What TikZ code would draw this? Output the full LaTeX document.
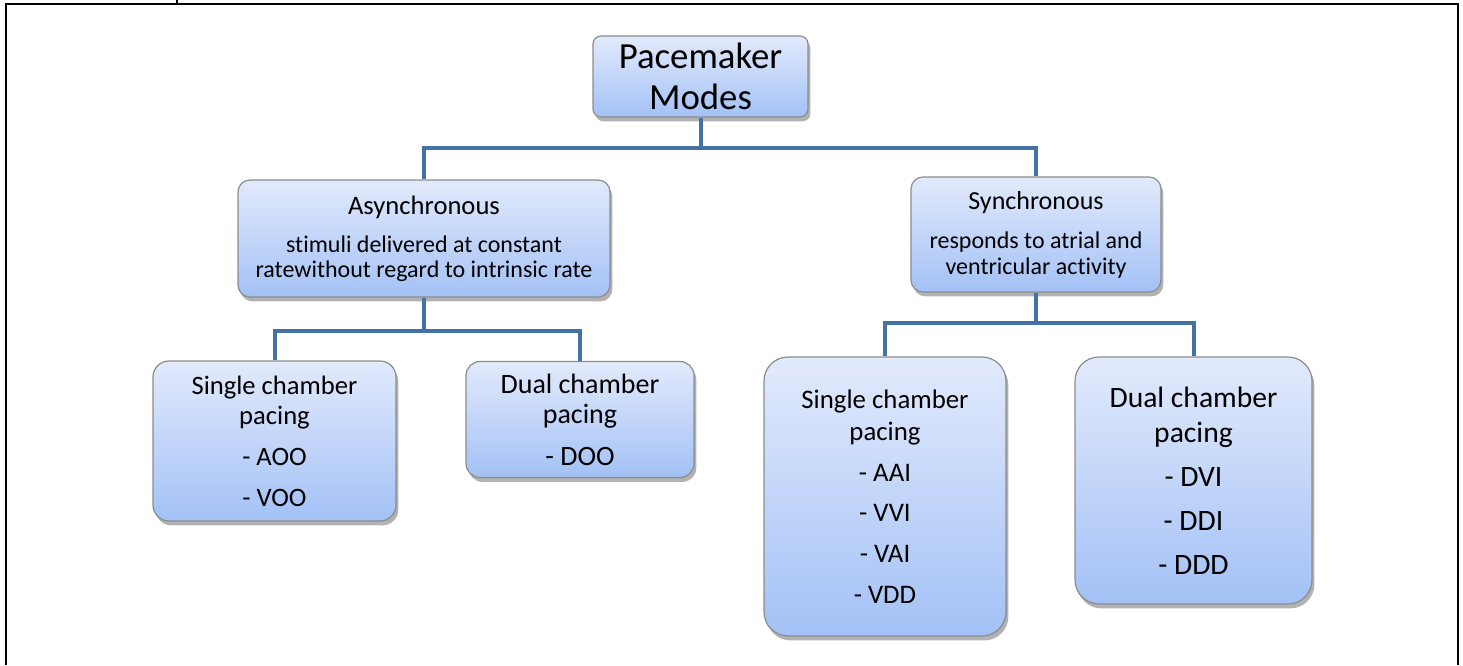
\documentclass[tikz,border=0pt]{standalone}
\usepackage{fontspec}
\setmainfont[Ligatures=NoCommon]{Carlito}
\usetikzlibrary{shadows}

\definecolor{boxtop}{RGB}{226,234,252}
\definecolor{boxbot}{RGB}{163,193,246}
\definecolor{boxline}{RGB}{140,140,140}
\definecolor{linkblue}{RGB}{68,114,162}

\tikzset{
  modebox/.style={draw=boxline, line width=0.6pt, top color=boxtop, bottom color=boxbot,
    align=center, inner sep=0pt,
    drop shadow={shadow xshift=1.2pt, shadow yshift=-2.2pt, opacity=0.3, fill=black}},
  link/.style={draw=linkblue, line width=2pt}
}

\begin{document}
\begin{tikzpicture}[x=0.5pt,y=-0.5pt]
  \useasboundingbox (0,0) rectangle (1463,665);

  % Draw the table frame round the picture
  \draw[line width=1pt] (6,665) -- (6,4) -- (1458,4) -- (1458,665);
  \draw[line width=1pt] (177,0) -- (177,4);

  % Draw the top box
  \node[modebox, rounded corners=4pt, minimum width=107.5pt, minimum height=40.5pt,
    font=\fontsize{18.4}{20.5}\selectfont] (root) at (700.5,76.5) {Pacemaker\\Modes};

  % Draw the two kinds of mode
  \node[modebox, rounded corners=6pt, minimum width=186pt, minimum height=58.5pt,
    font=\fontsize{12}{12.5}\selectfont] (async) at (424,238.5)
    {{\fontsize{13.3}{15}\selectfont Asynchronous}\\[6.5pt]
     stimuli delivered at constant\\ratewithout regard to intrinsic rate};
  \node[modebox, rounded corners=6pt, minimum width=125pt, minimum height=57.5pt,
    font=\fontsize{12}{13}\selectfont] (sync) at (1036,234.5)
    {{\fontsize{13}{15}\selectfont Synchronous}\\[6.5pt]
     responds to atrial and\\ventricular activity};

  % Draw the boxes under asynchronous
  \node[modebox, rounded corners=8pt, minimum width=121.5pt, minimum height=80pt,
    font=\fontsize{13.3}{15}\selectfont] (sglA) at (274.5,441)
    {Single chamber\\pacing\\[5.5pt]- AOO\\[5.5pt]- VOO};
  \node[modebox, rounded corners=7pt, minimum width=114pt, minimum height=58pt,
    font=\fontsize{14}{15}\selectfont] (dualA) at (580,419.5)
    {Dual chamber\\pacing\\[6pt]- DOO};

  % Draw the boxes under synchronous
  \node[modebox, rounded corners=12pt, minimum width=121pt, minimum height=139.5pt,
    font=\fontsize{13.4}{16}\selectfont] (sglS) at (885,496.5)
    {Single chamber\\pacing\\[4.3pt]- AAI\\[4.3pt]- VVI\\[4.3pt]- VAI\\[4.3pt]- VDD};
  \node[modebox, rounded corners=12pt, minimum width=118.5pt, minimum height=123.5pt,
    font=\fontsize{14.8}{17.5}\selectfont] (dualS) at (1193.5,480.5)
    {Dual chamber\\pacing\\[4.5pt]- DVI\\[4.5pt]- DDI\\[4.5pt]- DDD};

  % Draw the connectors
  \coordinate (busTop) at (703,148);
  \coordinate (busA) at (424,331);
  \coordinate (busS) at (1036,323);
  \draw[link] (root.south) -- (root.south |- busTop);
  \draw[link] (async.north) |- (busTop) -| (sync.north);
  \draw[link] (async.south) -- (busA);
  \draw[link] (sglA.north) |- (busA) -| (dualA.north);
  \draw[link] (sync.south) -- (busS);
  \draw[link] (sglS.north) |- (busS) -| (dualS.north);
\end{tikzpicture}
\end{document}
